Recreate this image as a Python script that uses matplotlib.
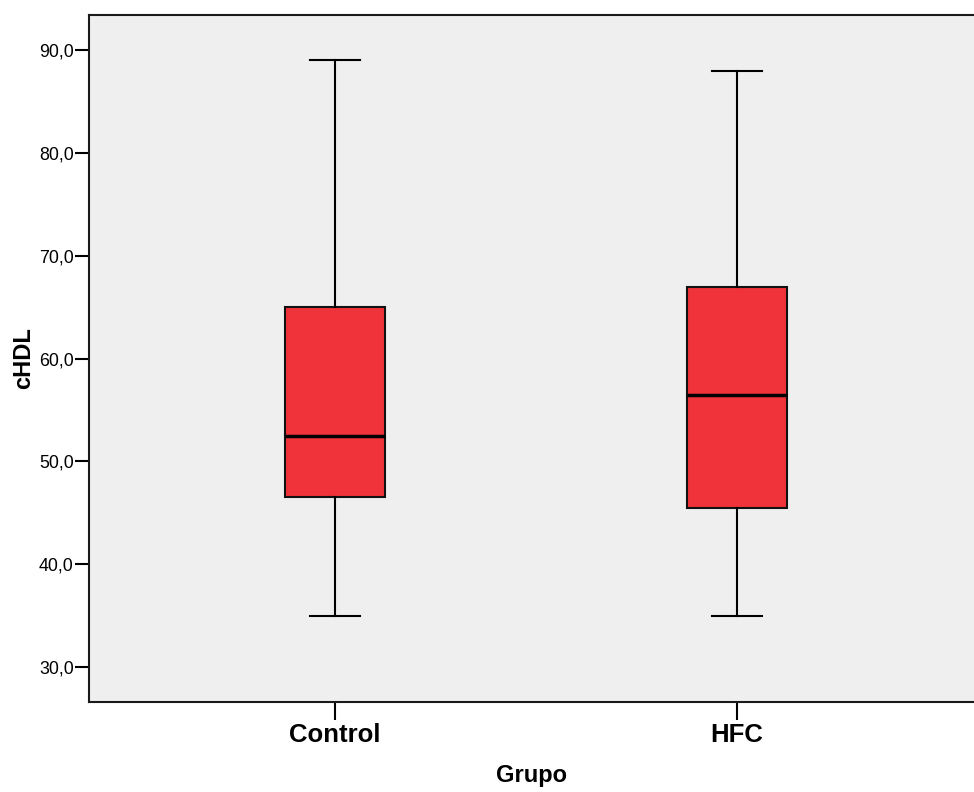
import matplotlib.pyplot as plt

plt.rcParams['font.family'] = ['Liberation Sans', 'DejaVu Sans']

groups = ['Control', 'HFC']
whislo = [35.0, 35.0]
q1 = [46.5, 45.5]
med = [52.5, 56.5]
q3 = [65.0, 67.0]
whishi = [89.0, 88.0]
yticks = [30, 40, 50, 60, 70, 80, 90]

stats = []
for i, g in enumerate(groups):
    stats.append({'label': g, 'whislo': whislo[i], 'q1': q1[i], 'med': med[i],
                  'q3': q3[i], 'whishi': whishi[i], 'fliers': []})

fig = plt.figure(figsize=(9.74, 7.92), dpi=100)
ax = fig.add_axes([0.0914, 0.1136, 0.9086, 0.8674])
ax.set_facecolor('#efefef')

ax.bxp(stats, positions=[1, 2], widths=0.249, patch_artist=True, showfliers=False,
       boxprops=dict(facecolor='#f0333a', edgecolor='#111111', linewidth=1.5),
       medianprops=dict(color='black', linewidth=2.5),
       whiskerprops=dict(color='black', linewidth=1.5),
       capprops=dict(color='black', linewidth=1.5),
       capwidths=0.125)

ax.set_xlim(0.388, 2.59)
ax.set_ylim(26.6, 93.4)
ax.set_yticks(yticks)
ax.set_yticklabels(['%d,0' % v for v in yticks], fontsize=12.8)
ax.set_xticks([1, 2])
ax.set_xticklabels(groups, fontsize=18.5, fontweight='bold')
ax.tick_params(axis='y', length=10, width=1.5, pad=1)
ax.tick_params(axis='x', length=13, width=1.5, pad=2)

for s in ['left', 'top', 'bottom']:
    ax.spines[s].set_linewidth(1.5)
    ax.spines[s].set_color('#1a1a1a')
ax.spines['right'].set_visible(False)

ax.set_ylabel('cHDL', fontsize=17, fontweight='bold', labelpad=3)
ax.set_xlabel('Grupo', fontsize=17, fontweight='bold', labelpad=12)

fig.savefig('out.png', dpi=100)
